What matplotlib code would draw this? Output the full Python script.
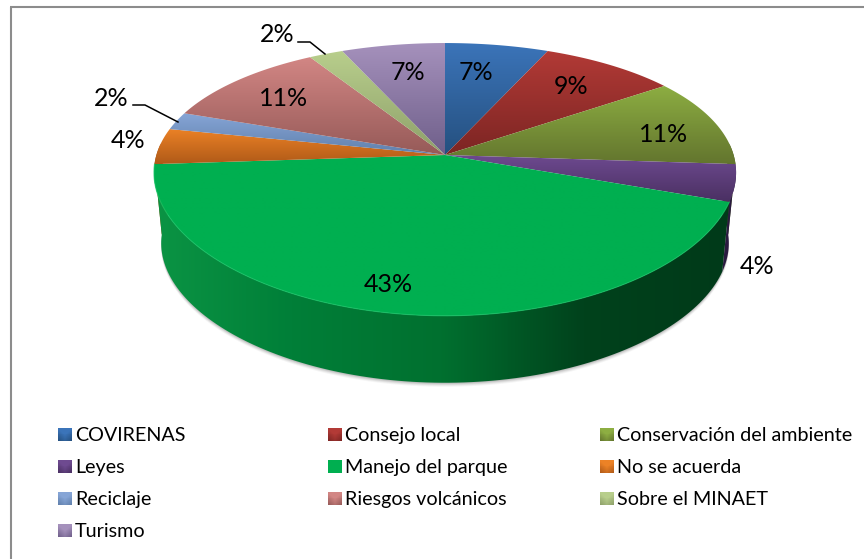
import numpy as np
import matplotlib
matplotlib.use('Agg')
import matplotlib.pyplot as plt
from matplotlib.patches import Polygon
from matplotlib.colors import LinearSegmentedColormap

plt.rcParams['font.family'] = ['Lato', 'DejaVu Sans']

categories = ['COVIRENAS', 'Consejo local', 'Conservación del ambiente',
              'Leyes', 'Manejo del parque', 'No se acuerda',
              'Reciclaje', 'Riesgos volcánicos', 'Sobre el MINAET',
              'Turismo']
counts = [3, 4, 5, 2, 20, 2, 1, 5, 1, 3]
pct_labels = ['7%', '9%', '11%', '4%', '43%', '4%', '2%', '11%', '2%', '7%']

top_light = ['#3B74B9', '#B23A36', '#8DAE42', '#6E4A90', '#00AF50',
             '#EC8226', '#86A5D6', '#D28684', '#B8CE8C', '#A591BC']
top_dark = ['#25507F', '#7C2523', '#63752E', '#4A3062', '#00AF50',
            '#B05A18', '#6080AC', '#965A58', '#8EA06A', '#6F5F8A']
wall_color = ['#25507F', '#7C2523', '#4A5A20', '#2A1A40', '#00702F',
              '#A05010', '#506C94', '#804A48', '#748556', '#5C4E74']
green_wall = ['#0B9444', '#007F38', '#00702F', '#00421C', '#003A19']

# pixel layout of the pie
CX, CY = 445, 155
RX = 288.6
KX = 0.13
A = 132
K = 0.179
DROP = 71
BOTTOM_SCALE = 0.975

label_xy = [(476, 72), (571, 86), (664, 135), (757, 266), (388, 284),
            (128, 141), (111, 98), (284, 99), (277, 35), (408, 72)]
leaders = {6: [(133, 105), (145, 105), (178, 122)],
           8: [(298, 42), (310, 42), (325, 54)]}

legend_cols = [58, 328, 600]
legend_rows = [435, 467, 499, 531]


def project(theta, scale=1.0, drop=0):
    # angle clockwise from 12 o'clock, flattened with a little perspective
    u = np.sin(theta)
    v = np.cos(theta)
    return (CX + scale * RX * u / (1 + KX * v),
            CY + drop - scale * A * v / (1 + K * v))


def clipped_gradient(px, py, grad, colors, zorder):
    cmap = LinearSegmentedColormap.from_list('g', colors)
    im = ax.imshow(grad, cmap=cmap, aspect='auto', zorder=zorder,
                   extent=(px.min(), px.max(), py.max(), py.min()),
                   interpolation='bilinear')
    patch = Polygon(np.c_[px, py], closed=True, transform=ax.transData,
                    fc='none', ec='none')
    ax.add_patch(patch)
    im.set_clip_path(patch)


fig = plt.figure(figsize=(8.64, 5.59), dpi=100)
ax = fig.add_axes([0, 0, 1, 1])

ax.plot([11, 11], [559, 7], color='#8C8C8C', lw=1.5, solid_capstyle='butt')
ax.plot([10, 864], [7, 7], color='#8C8C8C', lw=1.5, solid_capstyle='butt')

edges = np.cumsum([0] + counts) / sum(counts) * 2 * np.pi

# soft shadow under the wall
t = np.linspace(np.radians(85), np.radians(275), 200)
for off, alpha in [(4, 0.06), (3, 0.09), (2, 0.12), (1, 0.16)]:
    sx, sy = project(t, BOTTOM_SCALE, DROP)
    ax.fill(sx, sy + off, color='#555555', alpha=alpha, lw=0, zorder=1)

# side wall: only the slices reaching the front show, the big one goes on top
for i in [2, 3, 5, 4]:
    t = np.linspace(max(edges[i], np.radians(85)), min(edges[i + 1], np.radians(275)), 120)
    x1, y1 = project(t)
    x2, y2 = project(t[::-1], BOTTOM_SCALE, DROP)
    px = np.r_[x1, x2]
    py = np.r_[y1, y2]
    if i == 4:
        # green gets its shading across the width
        xs = np.linspace(px.min(), px.max(), 256)
        stops = np.interp(xs, [150, 290, 445, 590, 740], [0, 0.25, 0.5, 0.75, 1])
        clipped_gradient(px, py, stops.reshape(1, -1), green_wall, 2)
    else:
        ax.fill(px, py, color=wall_color[i], lw=0, zorder=2)

# top face, each slice with its vertical gradient
for i in range(len(counts)):
    t = np.linspace(edges[i], edges[i + 1], 120)
    x, y = project(t)
    px = np.r_[CX, x]
    py = np.r_[CY, y]
    grad = np.linspace(0, 1, 128).reshape(-1, 1)
    clipped_gradient(px, py, grad, [top_light[i], top_dark[i]], 3)

# bright lip on the front rim of the big slice
t = np.linspace(edges[4], edges[5], 200)
x, y = project(t)
ax.plot(x, y, color='#17C768', lw=0.8, alpha=0.7, zorder=4)

for txt, (lx, ly) in zip(pct_labels, label_xy):
    ax.text(lx, ly, txt, ha='center', va='center', fontsize=18, color='black', zorder=6)

for pts in leaders.values():
    ax.plot([p[0] for p in pts], [p[1] for p in pts], color='black', lw=1.1, zorder=5)

# legend, three equal columns as in the spreadsheet
for i, name in enumerate(categories):
    col = legend_cols[i % 3]
    row = legend_rows[i // 3]
    cmap = LinearSegmentedColormap.from_list('l', [top_dark[i], top_light[i]])
    yy, xx = np.mgrid[0:1:14j, 0:1:14j]
    # bevelled look: bright wedge from the top edge, dark towards the bottom
    shade = np.clip(1.5 - yy - 0.9 * np.abs(xx - 0.5), 0, 1)
    ax.imshow(shade, cmap=cmap, aspect='auto', zorder=3, vmin=0, vmax=1,
              extent=(col, col + 14, row + 6.5, row - 6.5), interpolation='nearest')
    ax.text(col + 17, row + 6, name, ha='left', va='baseline', fontsize=14.2, color='black')

ax.set_xlim(0, 864)
ax.set_ylim(559, 0)
ax.axis('off')

fig.savefig('out.png', dpi=100, facecolor='white')
